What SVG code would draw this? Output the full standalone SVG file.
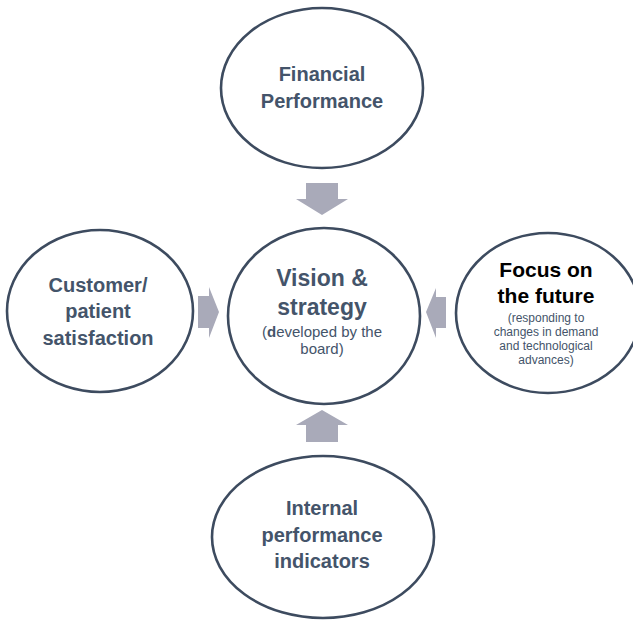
<svg xmlns="http://www.w3.org/2000/svg" width="633" height="620" viewBox="0 0 633 620">
<style>
.node{fill:#ffffff;stroke:#3d4b5f;stroke-width:2.6}
.arrow{fill:#a9aab9}
.t{font-family:"Liberation Sans",Arial,sans-serif;font-weight:bold;font-size:20px;fill:#44546a;text-anchor:middle}
.s{font-family:"Liberation Sans",Arial,sans-serif;font-size:15px;fill:#44546a;text-anchor:middle}
</style>
<rect width="633" height="620" fill="#ffffff"/>
<g id="connectors">
<polygon class="arrow" points="306,183 338,183 338,199 348,199 322,215 296,199 306,199"/>
<polygon class="arrow" points="306,442 338,442 338,425 348,425 322,410 296,425 306,425"/>
<polygon class="arrow" points="198,296 209,296 209,287 219,312 209,338 209,328 198,328"/>
<polygon class="arrow" points="446,297 436,297 436,288 426,312 436,338 436,328 446,328"/>
</g>
<g id="financial">
<ellipse class="node" cx="322" cy="88" rx="101" ry="80"/>
<text class="t" x="322" y="81">Financial</text>
<text class="t" x="322" y="108">Performance</text>
</g>
<g id="vision">
<ellipse class="node" cx="324" cy="316" rx="96" ry="88"/>
<text class="t" x="322" y="286" style="font-size:23px">Vision &amp;</text>
<text class="t" x="322" y="315" style="font-size:23px">strategy</text>
<text class="s" x="322" y="337">(<tspan font-weight="bold">d</tspan>eveloped by the</text>
<text class="s" x="322" y="354">board)</text>
</g>
<g id="customer">
<ellipse class="node" cx="100" cy="311" rx="93" ry="81"/>
<text class="t" x="98" y="292">Customer/</text>
<text class="t" x="98" y="318">patient</text>
<text class="t" x="98" y="345">satisfaction</text>
</g>
<g id="future">
<ellipse class="node" cx="548" cy="313" rx="92" ry="80"/>
<text class="t" x="546" y="277" style="font-size:21px;fill:#000000">Focus on</text>
<text class="t" x="546" y="303" style="font-size:21px;fill:#000000">the future</text>
<text class="s" x="546" y="322" style="font-size:12px">(responding to</text>
<text class="s" x="546" y="336" style="font-size:12px">changes in demand</text>
<text class="s" x="546" y="350" style="font-size:12px">and technological</text>
<text class="s" x="546" y="364" style="font-size:12px">advances)</text>
</g>
<g id="internal">
<ellipse class="node" cx="323" cy="537" rx="111" ry="81"/>
<text class="t" x="322" y="515">Internal</text>
<text class="t" x="322" y="542">performance</text>
<text class="t" x="322" y="568">indicators</text>
</g>
</svg>
